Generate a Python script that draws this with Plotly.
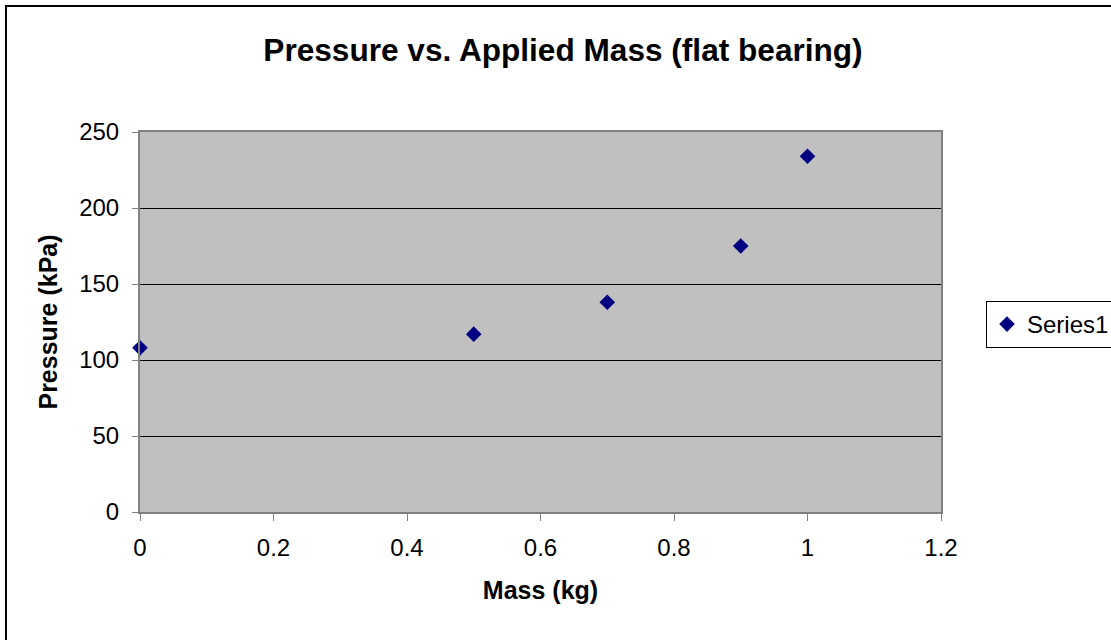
import plotly.graph_objects as go

mass = [0, 0.5, 0.7, 0.9, 1.0]
pressure = [108, 117, 138, 175, 234]
x_ticks = [0, 0.2, 0.4, 0.6, 0.8, 1.0, 1.2]
x_tick_text = ["0", "0.2", "0.4", "0.6", "0.8", "1", "1.2"]
y_ticks = [0, 50, 100, 150, 200, 250]

FONT = "Liberation Sans, Arial, sans-serif"

fig = go.Figure()
fig.add_trace(go.Scatter(
    x=mass, y=pressure, mode="markers", name="Series1",
    marker=dict(symbol="diamond", size=12, color="#000080"),
    cliponaxis=False,
    showlegend=True,
))

fig.update_layout(
    width=1111, height=640,
    margin=dict(l=140, r=170, t=132, b=128, autoexpand=False),
    paper_bgcolor="white",
    plot_bgcolor="#c0c0c0",
    font=dict(family=FONT, color="black", size=24),
    title=dict(text="<b>Pressure vs. Applied Mass (flat bearing)</b>",
               x=563/1111, xanchor="center", y=1-50/640, yanchor="middle",
               font=dict(size=31.6, family=FONT, color="black")),
    xaxis=dict(range=[0, 1.2], tickvals=x_ticks, ticktext=x_tick_text,
               showgrid=False, zeroline=False, showline=True, linecolor="#808080",
               linewidth=2, mirror=True, ticks="outside", ticklen=7, tickcolor="#808080",
               tickfont=dict(size=24, family=FONT), ticklabelstandoff=6,
               title=dict(text="<b>Mass (kg)</b>", font=dict(size=25, family=FONT), standoff=22)),
    yaxis=dict(range=[0, 250], tickvals=y_ticks,
               showgrid=True, gridcolor="black", gridwidth=1, zeroline=False,
               showline=True, linecolor="#808080", linewidth=2, mirror=True,
               ticks="outside", ticklen=6, tickcolor="#808080",
               tickfont=dict(size=24, family=FONT), ticklabelstandoff=8,
               title=dict(text="<b>Pressure (kPa)</b>", font=dict(size=25, family=FONT), standoff=14)),
    legend=dict(xref="container", yref="container",
                x=986/1111, y=1-301/640, xanchor="left", yanchor="top",
                bordercolor="black", borderwidth=1, bgcolor="white",
                font=dict(size=24, family=FONT)),
    shapes=[dict(type="rect", xref="paper", yref="paper",
                 x0=(6-140)/801, x1=(1120-140)/801,
                 y0=1-(650-132)/380, y1=1+(132-6)/380,
                 line=dict(color="black", width=2), fillcolor="rgba(0,0,0,0)", layer="below")],
)

fig.write_html("out.html")
